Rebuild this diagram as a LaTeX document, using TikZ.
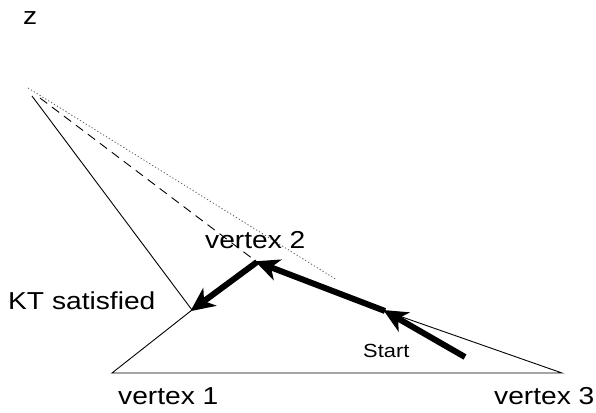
\documentclass[tikz,border=0pt]{standalone}
\usepackage{fontspec}
\newfontfamily\labfont{Liberation Sans}[FakeStretch=1.15]
\usetikzlibrary{arrows.meta}
\tikzset{
  lab/.style={font=\labfont\fontsize{24.5}{28}\selectfont, inner sep=0pt, anchor=base west},
  smalllab/.style={font=\labfont\fontsize{19}{22}\selectfont, inner sep=0pt, anchor=base west},
  thin/.style={line width=0.9pt},
  path/.style={line width=6pt, -{Stealth[length=24pt,width=22pt,inset=7pt]}, shorten >=-2pt},
}
\begin{document}
\begin{tikzpicture}[x=1pt,y=-1pt]
\useasboundingbox (0,0) rectangle (596,412);
% points
\coordinate (apexDot) at (28,88);
\coordinate (apexDash) at (40,98);
\coordinate (apexSolid) at (32,96);
\coordinate (v1) at (192,310);
\coordinate (bl) at (112,373);
\coordinate (br) at (562,373);
\coordinate (p3) at (385,311);
\coordinate (v2) at (257,262);
\coordinate (dotEnd) at (337,280);
\coordinate (s) at (465,357);
% cone lines
\draw[thin] (apexSolid) -- (v1);
\draw[line width=0.9pt, dash pattern=on 9pt off 6pt] (apexDash) -- (v2);
\draw[line width=0.8pt, gray!70!black, dash pattern=on 1.2pt off 2.2pt] (apexDot) -- (dotEnd);
% triangle
\draw[thin] (v1) -- (bl) -- (br) -- (p3);
% path arrows
\draw[path] (s) -- (p3);
\draw[path] (p3) -- (v2);
\draw[path] (v2) -- (v1);
% labels
\node[lab] (z) at (23,25) {z};
\node[lab] (lv2) at (205,248) {vertex 2};
\node[lab] (lkt) at (8,309) {KT satisfied};
\node[smalllab] (lstart) at (363,357) {Start};
\node[lab] (lv1) at (118,404) {vertex 1};
\node[lab] (lv3) at (494,404) {vertex 3};
\end{tikzpicture}
\end{document}
